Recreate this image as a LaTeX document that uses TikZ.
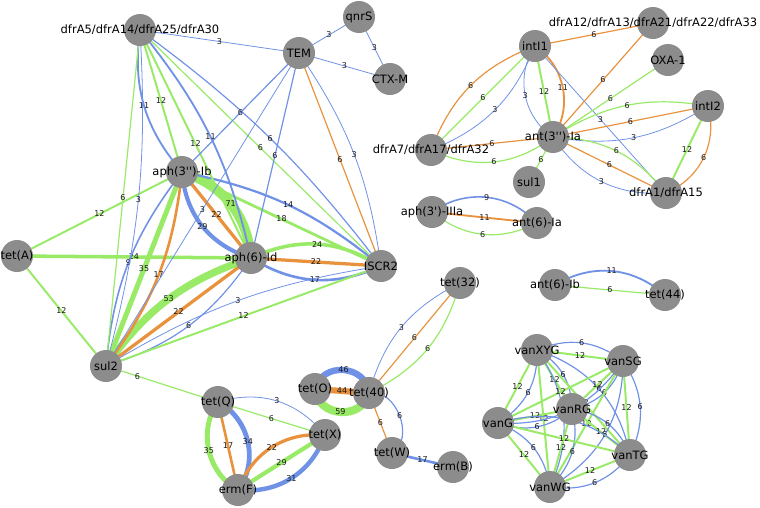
\documentclass[tikz,border=0pt]{standalone}
\usepackage{fontspec}
\newfontfamily\nlf{DejaVu Sans}
\definecolor{nodegray}{RGB}{140,140,140}
\definecolor{eblue}{RGB}{112,146,230}
\definecolor{egreen}{RGB}{153,234,102}
\definecolor{eorange}{RGB}{232,146,62}
\pgfdeclarelayer{back}
\pgfdeclarelayer{edges}
\pgfsetlayers{back,edges,main}
\tikzset{
  gn/.style={circle, fill=nodegray, minimum size=32pt, inner sep=0pt},
  lab/.style={font=\nlf\fontsize{11.5}{12}\selectfont, text=black, inner sep=0pt},
  el/.style={font=\nlf\fontsize{8}{8}\selectfont, text=black!90, inner sep=0.5pt},
  wb/.style={draw=eblue, line width={0.4pt+0.13pt*#1}},
  wg/.style={draw=egreen, line width={0.4pt+0.13pt*#1}},
  wo/.style={draw=eorange, line width={0.4pt+0.13pt*#1}},
  bl/.style={bend left=#1},
  br/.style={bend right=#1}
}
\begin{document}
\begin{tikzpicture}[x=1pt,y=-1pt]
\useasboundingbox (0,0) rectangle (760,507);
\begin{pgfonlayer}{back}
\fill[white] (0,0) rectangle (760,507);
\end{pgfonlayer}
% nodes
\node[gn,label={[lab]center:dfrA5/dfrA14/dfrA25/dfrA30}] (dfrb) at (140,30) {};
\node[gn,label={[lab]center:TEM}] (tem) at (299,53) {};
\node[gn,label={[lab]center:qnrS}] (qnrs) at (359,17) {};
\node[gn,label={[lab]center:CTX-M}] (ctxm) at (390,79) {};
\node[gn,label={[lab]center:aph(3'')-Ib}] (aphb) at (182,172) {};
\node[gn,label={[lab]center:tet(A)}] (teta) at (17,256) {};
\node[gn,label={[lab]center:aph(6)-Id}] (aphd) at (251,258) {};
\node[gn,label={[lab]center:ISCR2}] (iscr) at (381,266) {};
\node[gn,label={[lab]center:sul2}] (sult) at (106,366) {};
\node[gn,label={[lab]center:tet(Q)}] (tetq) at (218,402) {};
\node[gn,label={[lab]center:tet(X)}] (tetx) at (325,435) {};
\node[gn,label={[lab]center:erm(F)}] (ermf) at (238,490) {};
\node[gn,label={[lab]center:tet(O)}] (teto) at (315,389) {};
\node[gn,label={[lab]center:tet(40)}] (tetf) at (369,393) {};
\node[gn,label={[lab]center:tet(32)}] (tett) at (460,283) {};
\node[gn,label={[lab]center:tet(W)}] (tetw) at (392,453) {};
\node[gn,label={[lab]center:erm(B)}] (ermb) at (453,467) {};
\node[gn,label={[lab]center:intI1}] (intone) at (535,46) {};
\node[gn,label={[lab]center:dfrA12/dfrA13/dfrA21/dfrA22/dfrA33}] (dfrd) at (653,23) {};
\node[gn,label={[lab]center:OXA-1}] (oxa) at (668,60) {};
\node[gn,label={[lab]center:intI2}] (inttwo) at (708,106) {};
\node[gn,label={[lab]center:dfrA1/dfrA15}] (dfra) at (666,193) {};
\node[gn,label={[lab]center:ant(3'')-Ia}] (anta) at (553,137) {};
\node[gn,label={[lab]center:sul1}] (sulone) at (529,182) {};
\node[gn,label={[lab]center:dfrA7/dfrA17/dfrA32}] (dfrs) at (431,150) {};
\node[gn,label={[lab]center:aph(3')-IIIa}] (aphiii) at (432,212) {};
\node[gn,label={[lab]center:ant(6)-Ia}] (antsa) at (537,223) {};
\node[gn,label={[lab]center:ant(6)-Ib}] (antsb) at (555,285) {};
\node[gn,label={[lab]center:tet(44)}] (tetff) at (665,295) {};
\node[gn,label={[lab]center:vanXYG}] (vanxyg) at (537,350) {};
\node[gn,label={[lab]center:vanSG}] (vansg) at (623,361) {};
\node[gn,label={[lab]center:vanRG}] (vanrg) at (572,409) {};
\node[gn,label={[lab]center:vanG}] (vang) at (498,423) {};
\node[gn,label={[lab]center:vanTG}] (vantg) at (630,455) {};
\node[gn,label={[lab]center:vanWG}] (vanwg) at (550,487) {};
% edges
\begin{pgfonlayer}{edges}
% top-left cluster
\draw[wg=71] (aphb.center) to[bl=34] node[el]{71} (aphd.center);
\draw[wg=53] (sult.center) to[bl=18] node[el]{53} (aphd.center);
\draw[wg=35] (sult.center) -- node[el]{35} (aphb.center);
\draw[wb=29] (aphb.center) to[br=34] node[el]{29} (aphd.center);
\draw[wg=24] (teta.center) -- node[el]{24} (aphd.center);
\draw[wg=24] (aphd.center) to[bl=28] node[el]{24} (iscr.center);
\draw[wo=22] (aphd.center) -- node[el]{22} (iscr.center);
\draw[wb=17] (aphd.center) to[br=28] node[el]{17} (iscr.center);
\draw[wo=22] (aphb.center) -- node[el]{22} (aphd.center);
\draw[wo=22] (sult.center) -- node[el]{22} (aphd.center);
\draw[wg=18] (aphb.center) -- node[el]{18} (iscr.center);
\draw[wb=14] (aphb.center) to[bl=14] node[el]{14} (iscr.center);
\draw[wo=17] (sult.center) to[br=15] node[el]{17} (aphb.center);
\draw[wb=9] (sult.center) to[bl=16] node[el]{9} (aphb.center);
\draw[wb=6] (sult.center) to[br=19] node[el]{6} (aphd.center);
\draw[wg=12] (sult.center) -- node[el]{12} (iscr.center);
\draw[wb=3] (sult.center) to[bl=11] node[el]{3} (iscr.center);
\draw[wg=12] (teta.center) -- node[el]{12} (aphb.center);
\draw[wg=12] (teta.center) -- node[el]{12} (sult.center);
\draw[wb=11] (dfrb.center) to[br=24] node[el]{11} (aphb.center);
\draw[wg=12] (dfrb.center) -- node[el]{12} (aphb.center);
\draw[wg=12] (dfrb.center) -- node[el]{12} (aphd.center);
\draw[wb=11] (dfrb.center) to[bl=13] node[el]{11} (aphd.center);
\draw[wg=6] (dfrb.center) -- node[el]{6} (iscr.center);
\draw[wb=6] (dfrb.center) to[bl=8] node[el]{6} (iscr.center);
\draw[wg=6] (dfrb.center) -- node[el]{6} (sult.center);
\draw[wb=3] (dfrb.center) to[bl=9] node[el]{3} (sult.center);
\draw[wb=3] (dfrb.center) -- node[el]{3} (tem.center);
\draw[wb=3] (tem.center) -- node[el]{3} (qnrs.center);
\draw[wb=3] (tem.center) -- node[el]{3} (ctxm.center);
\draw[wb=3] (qnrs.center) -- node[el]{3} (ctxm.center);
\draw[wb=6] (tem.center) -- node[el]{6} (aphb.center);
\draw[wb=6] (tem.center) -- node[el]{6} (aphd.center);
\draw[wb=3] (tem.center) -- node[el]{3} (sult.center);
\draw[wo=6] (tem.center) -- node[el]{6} (iscr.center);
\draw[wb=3] (tem.center) to[bl=13] node[el]{3} (iscr.center);
\draw[wg=6] (sult.center) -- node[el,pos=0.28]{6} (tetq.center);
% tet cluster
\draw[wb=3] (tetq.center) to[bl=34] node[el]{3} (tetx.center);
\draw[wg=6] (tetq.center) -- node[el]{6} (tetx.center);
\draw[wg=35] (tetq.center) to[br=48] node[el]{35} (ermf.center);
\draw[wo=17] (tetq.center) -- node[el]{17} (ermf.center);
\draw[wb=34] (tetq.center) to[bl=50] node[el]{34} (ermf.center);
\draw[wo=22] (tetx.center) to[br=37] node[el]{22} (ermf.center);
\draw[wg=29] (tetx.center) -- node[el]{29} (ermf.center);
\draw[wb=31] (tetx.center) to[bl=38] node[el]{31} (ermf.center);
\draw[wb=46] (teto.center) to[bl=80,looseness=1.35] node[el]{46} (tetf.center);
\draw[wo=44] (teto.center) -- node[el]{44} (tetf.center);
\draw[wg=59] (teto.center) to[br=80,looseness=1.35] node[el]{59} (tetf.center);
\draw[wb=3] (tetf.center) to[bl=24] node[el]{3} (tett.center);
\draw[wo=6] (tetf.center) -- node[el]{6} (tett.center);
\draw[wg=6] (tetf.center) to[br=24] node[el]{6} (tett.center);
\draw[wo=6] (tetf.center) -- node[el]{6} (tetw.center);
\draw[wb=6] (tetf.center) to[bl=80,looseness=1.1] node[el]{6} (tetw.center);
\draw[wb=17] (tetw.center) -- node[el]{17} (ermb.center);
% top-right cluster
\draw[wo=6] (intone.center) -- node[el]{6} (dfrd.center);
\draw[wo=6] (dfrs.center) to[bl=24] node[el]{6} (intone.center);
\draw[wg=6] (dfrs.center) -- node[el]{6} (intone.center);
\draw[wb=3] (dfrs.center) to[br=23] node[el]{3} (intone.center);
\draw[wb=3] (intone.center) to[br=45] node[el]{3} (anta.center);
\draw[wg=12] (intone.center) -- node[el]{12} (anta.center);
\draw[wo=11] (intone.center) to[bl=45] node[el]{11} (anta.center);
\draw[wb=3] (intone.center) -- node[el]{3} (dfra.center);
\draw[wo=6] (dfrs.center) -- node[el]{6} (anta.center);
\draw[wg=6] (dfrs.center) to[br=31] node[el]{6} (anta.center);
\draw[wg=6] (anta.center) -- node[el]{6} (sulone.center);
\draw[wo=6] (anta.center) -- node[el]{6} (dfrd.center);
\draw[wg=6] (anta.center) -- node[el]{6} (oxa.center);
\draw[wg=6] (anta.center) to[bl=21] node[el]{6} (inttwo.center);
\draw[wo=6] (anta.center) -- node[el]{6} (inttwo.center);
\draw[wb=3] (anta.center) to[br=21] node[el]{3} (inttwo.center);
\draw[wg=6] (anta.center) to[bl=25] node[el]{6} (dfra.center);
\draw[wo=6] (anta.center) -- node[el]{6} (dfra.center);
\draw[wb=3] (anta.center) to[br=30] node[el]{3} (dfra.center);
\draw[wg=12] (inttwo.center) -- node[el]{12} (dfra.center);
\draw[wo=6] (inttwo.center) to[bl=41] node[el]{6} (dfra.center);
\draw[wb=9] (aphiii.center) to[bl=41] node[el]{9} (antsa.center);
\draw[wo=11] (aphiii.center) -- node[el]{11} (antsa.center);
\draw[wg=6] (aphiii.center) to[br=33] node[el]{6} (antsa.center);
\draw[wb=11] (antsb.center) to[bl=36] node[el]{11} (tetff.center);
\draw[wg=6] (antsb.center) -- node[el]{6} (tetff.center);
% van cluster
\foreach \a/\b in {vanxyg/vansg, vanxyg/vanrg, vanxyg/vang, vanxyg/vantg, vanxyg/vanwg,
                   vansg/vanrg, vansg/vang, vansg/vantg, vansg/vanwg,
                   vanrg/vang, vanrg/vantg, vanrg/vanwg,
                   vang/vantg, vang/vanwg, vantg/vanwg}{
  \draw[wg=12] (\a.center) -- node[el]{12} (\b.center);
  \draw[wb=6] (\a.center) to[bl=30] node[el]{6} (\b.center);
}
\end{pgfonlayer}
\end{tikzpicture}
\end{document}
